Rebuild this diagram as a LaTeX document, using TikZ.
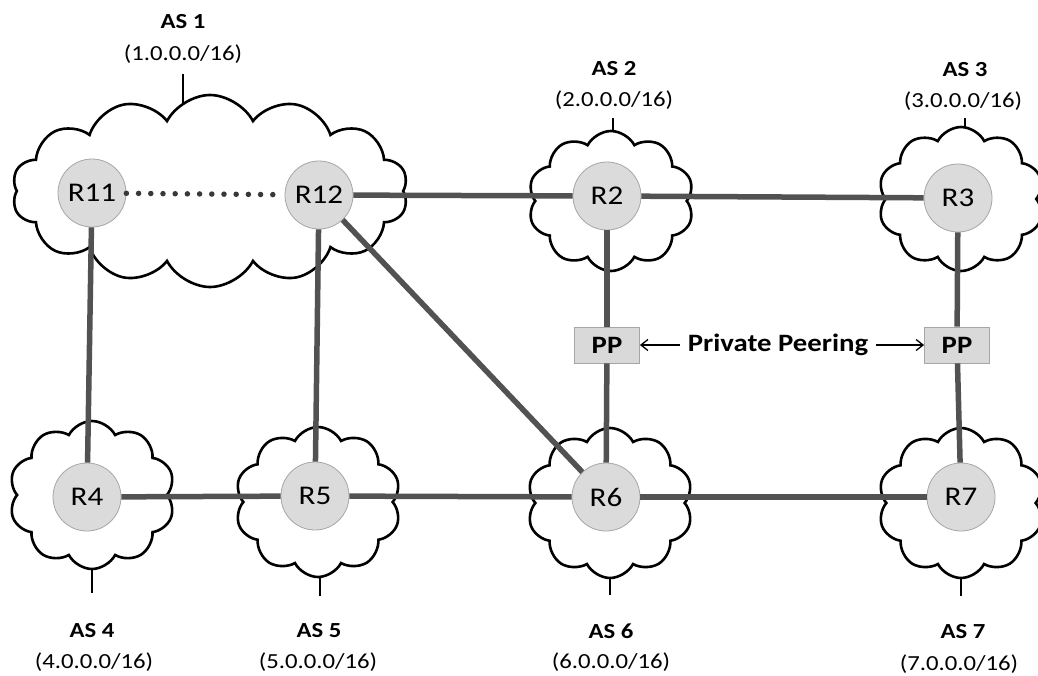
\documentclass[tikz,border=0pt]{standalone}
\usepackage{fontspec}
\setmainfont{Carlito}[FakeStretch=1.15]
\usetikzlibrary{shapes.symbols,arrows.meta}
\begin{document}
\begin{tikzpicture}[x=1pt,y=-1pt,
  ascloud/.style={cloud, cloud puffs=10, cloud puff arc=125, cloud ignores aspect,
    draw=black, line width=2.6pt, inner sep=0pt, fill=white},
  router/.style={circle, minimum size=68pt, inner sep=0pt, fill=black!14,
    draw=black!35, line width=0.8pt, font=\fontsize{27}{30}\selectfont},
  link/.style={line width=5.5pt, draw=black!68},
  dotlink/.style={line width=5.5pt, draw=black!78, line cap=round,
    dash pattern=on 0pt off 12.2pt},
  stalk/.style={line width=2.6pt, draw=black},
  ppbox/.style={rectangle, fill=black!15, draw=black!35, line width=0.8pt,
    minimum width=65pt, minimum height=36pt, inner sep=0pt,
    font=\bfseries\fontsize{25}{28}\selectfont},
  aslbl/.style={font=\bfseries\fontsize{21.5}{24}\selectfont, inner sep=0pt},
  pfx/.style={font=\fontsize{21.5}{24}\selectfont, inner sep=0pt},
  callout/.style={line width=1.3pt, draw=black, -{Straight Barb[length=7pt,width=11pt]}}
]
\useasboundingbox (0,0) rectangle (1038,675);

% stalks (drawn first, their inner ends hidden by the clouds)
\coordinate (s1a) at (183,74);  \coordinate (s1b) at (183,130);
\coordinate (s2a) at (613,118); \coordinate (s2b) at (613,160);
\coordinate (s3a) at (965,118); \coordinate (s3b) at (965,160);
\coordinate (s4a) at (92,593);  \coordinate (s4b) at (92,540);
\coordinate (s5a) at (320,596); \coordinate (s5b) at (320,540);
\coordinate (s6a) at (610,595); \coordinate (s6b) at (610,540);
\coordinate (s7a) at (961,596); \coordinate (s7b) at (961,540);
\foreach \i in {1,...,7} {\draw[stalk] (s\i a) -- (s\i b);}

% clouds
\node[ascloud, cloud puffs=14, minimum width=396pt, minimum height=192pt] (as1) at (210,191) {};
\node[ascloud, minimum width=166pt, minimum height=140pt] (as2) at (611,201) {};
\node[ascloud, minimum width=166pt, minimum height=144pt] (as3) at (961,199) {};
\node[ascloud, minimum width=166pt, minimum height=148pt] (as4) at (92,495) {};
\node[ascloud, minimum width=166pt, minimum height=150pt] (as5) at (318,502) {};
\node[ascloud, minimum width=166pt, minimum height=150pt] (as6) at (610,503) {};
\node[ascloud, minimum width=166pt, minimum height=150pt] (as7) at (961,503) {};

% routers
\node[router] (r11) at (92,193) {R11};
\node[router] (r12) at (319,195) {R12};
\node[router] (r2)  at (607,196) {R2};
\node[router] (r3)  at (958,198) {R3};
\node[router] (r4)  at (87,497)  {R4};
\node[router] (r5)  at (315,496) {R5};
\node[router] (r6)  at (606,497) {R6};
\node[router] (r7)  at (961,497) {R7};

% private peering boxes
\node[ppbox] (ppl) at (607,345) {PP};
\node[ppbox] (ppr) at (957,345) {PP};
\node[font=\bfseries\fontsize{25}{28}\selectfont, inner sep=8pt] (pptxt) at (778,345) {Private Peering};

% links
\draw[dotlink] (r11) -- (r12);
\draw[link] (r12) -- (r2);
\draw[link] (r2) -- (r3);
\draw[link] (r11) -- (r4);
\draw[link] (r12) -- (r5);
\draw[link] (r12) -- (r6);
\draw[link] (r2) -- (ppl);
\draw[link] (ppl) -- (r6);
\draw[link] (r3) -- (ppr);
\draw[link] (ppr) -- (r7);
\draw[link] (r4) -- (r5);
\draw[link] (r5) -- (r6);
\draw[link] (r6) -- (r7);

\draw[callout] (pptxt.west) -- (ppl.east);
\draw[callout] (pptxt.east) -- (ppr.west);

% labels
\node[aslbl] (l1) at (183,22) {AS 1};
\node[pfx]   (p1) at (183,54) {(1.0.0.0/16)};
\node[aslbl] (l2) at (614,69) {AS 2};
\node[pfx]   (p2) at (614,100) {(2.0.0.0/16)};
\node[aslbl] (l3) at (965,70) {AS 3};
\node[pfx]   (p3) at (963,101) {(3.0.0.0/16)};
\node[aslbl] (l4) at (92,631) {AS 4};
\node[pfx]   (p4) at (94,662) {(4.0.0.0/16)};
\node[aslbl] (l5) at (319,631) {AS 5};
\node[pfx]   (p5) at (318,662) {(5.0.0.0/16)};
\node[aslbl] (l6) at (611,631) {AS 6};
\node[pfx]   (p6) at (611,662) {(6.0.0.0/16)};
\node[aslbl] (l7) at (963,632) {AS 7};
\node[pfx]   (p7) at (959,664) {(7.0.0.0/16)};
\end{tikzpicture}
\end{document}
